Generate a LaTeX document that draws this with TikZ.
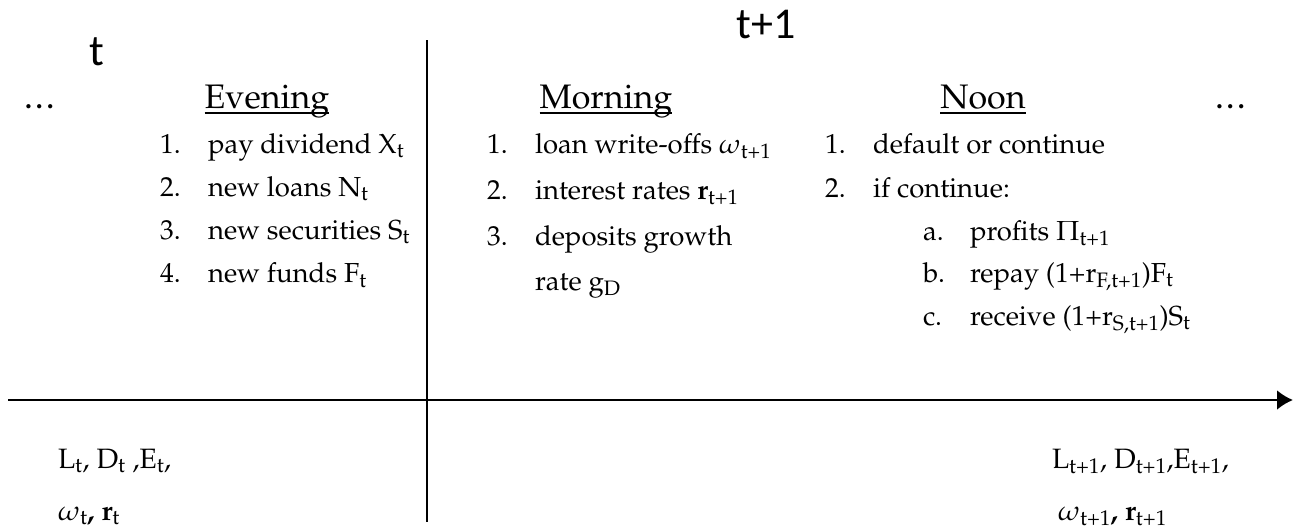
\documentclass[tikz,border=0pt]{standalone}
\usepackage[T1]{fontenc}
\usepackage{mathpazo}
\usetikzlibrary{arrows.meta}
\usetikzlibrary{positioning}

\newcommand{\lo}[1]{\textsubscript{#1}}
\font\stampfont="Carlito" at 44pt

\begin{document}
\begin{tikzpicture}[x=1pt, y=-1pt,
    every node/.style={inner sep=0pt, outer sep=0pt},
    item/.style={anchor=base west, font=\fontsize{27.5}{32}\selectfont},
    state/.style={anchor=base west, font=\fontsize{28}{32}\selectfont},
    head/.style={anchor=base, font=\fontsize{34}{40}\selectfont},
    stamp/.style={anchor=base, font=\stampfont},
    axis/.style={line width=2.5pt, -{Latex[length=16pt, width=20pt]}}]

      \useasboundingbox (0,0) rectangle (1306,530);

      % Time axis and the divider between t and t+1
      \coordinate (tail) at (8,400);
      \coordinate (tip) at (1293,400);
      \coordinate (divtop) at (427,40);
      \coordinate (divbot) at (427,522);
      \draw[axis] (tail) -- (tip);
      \draw[line width=1.5pt] (divtop) -- (divbot);

      % Period labels
      \node[stamp] (tnow) at (97,65) {t};
      \node[stamp] (tnext) at (766,38) {t+1};
      \node[item] (dotsl) at (25,108) {\textbf{\ldots}};
      \node[item] (dotsr) at (1216,108) {\textbf{\ldots}};

      % Headings
      \node[head] (evening) at (267,108) {Evening};
      \node[head] (morning) at (606,108) {Morning};
      \node[head] (noon) at (983,108) {Noon};
      \foreach \h in {evening, morning, noon} {
        \draw[line width=1.2pt] ([yshift=-5pt]\h.base west) -- ([yshift=-5pt]\h.base east);
      }

      % Evening of t
      \foreach \txt [count=\i] in {{pay dividend X\lo{t}}, {new loans N\lo{t}},
                                   {new securities S\lo{t}}, {new funds F\lo{t}}} {
        \node[item] (evn\i) at (160, {153+43.3*(\i-1)}) {\i.};
        \node[item] (evt\i) at (208, {153+43.3*(\i-1)}) {\txt};
      }

      % Morning of t+1
      \foreach \txt [count=\i] in {{loan write-offs $\omega$\lo{t+1}},
                                   {interest rates \textbf{r}\lo{t+1}},
                                   {deposits growth}} {
        \node[item] (mon\i) at (487, {153+46*(\i-1)}) {\i.};
        \node[item] (mot\i) at (535, {153+46*(\i-1)}) {\txt};
      }
      \node[item] (mot4) at (535,290) {rate g\lo{D}};

      % Noon of t+1
      \node[item] (non1) at (825,153) {1.};
      \node[item] (not1) at (873,153) {default or continue};
      \node[item] (non2) at (825,197) {2.};
      \node[item] (not2) at (873,197) {if continue:};
      \foreach \l/\txt [count=\i] in {a/{profits $\Pi$\lo{t+1}},
                                      b/{repay (1+r\lo{F,t+1})F\lo{t}},
                                      c/{receive (1+r\lo{S,t+1})S\lo{t}}} {
        \node[item] (nol\i) at (923, {240+42.5*(\i-1)}) {\l.};
        \node[item] (nos\i) at (970, {240+42.5*(\i-1)}) {\txt};
      }

      % Balance sheet states
      \node[state] (stl1) at (58,468) {L\lo{t}, D\lo{t} ,E\lo{t},};
      \node[state] (stl2) at (58,520) {$\omega$\lo{t}\textbf{, r}\lo{t}};
      \node[state] (str1) at (1052,468) {L\lo{t+1}, D\lo{t+1},E\lo{t+1},};
      \node[state] (str2) at (1058,520) {$\omega$\lo{t+1}\textbf{, r}\lo{t+1}};

    \end{tikzpicture}
\end{document}
